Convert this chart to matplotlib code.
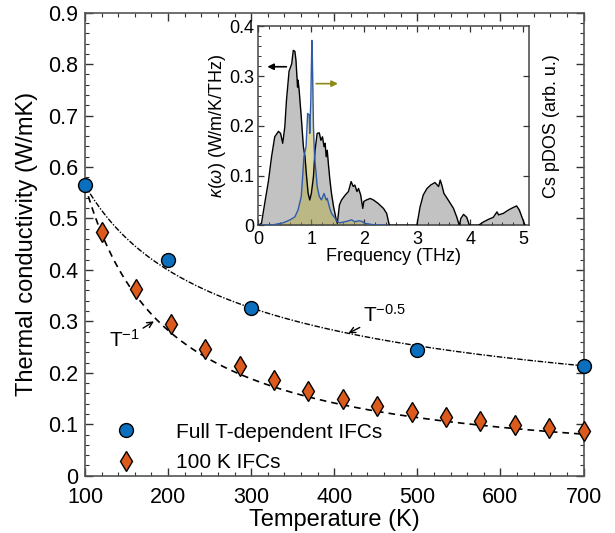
import numpy as np
import matplotlib
matplotlib.use("Agg")
import matplotlib.pyplot as plt
from matplotlib.ticker import MultipleLocator

plt.rcParams['font.family'] = ['Liberation Sans', 'DejaVu Sans']
plt.rcParams['mathtext.fontset'] = 'custom'
plt.rcParams['mathtext.rm'] = 'Liberation Sans'
plt.rcParams['mathtext.it'] = 'Liberation Sans:italic'

# ---------------- data ----------------
T_full = [100, 200, 300, 500, 700]
k_full = [0.565, 0.419, 0.326, 0.244, 0.213]

T_100K = [120, 161, 203, 244, 286, 327, 369, 410, 451, 493, 534, 576, 617, 659, 700]
k_100K = [0.474, 0.363, 0.295, 0.247, 0.213, 0.186, 0.165, 0.149, 0.136,
          0.124, 0.114, 0.107, 0.099, 0.093, 0.087]

# power-law guide curves: k0 * (T/T0)^n
k0 = 0.565
T0 = 100
n_half = -0.5
n_one = -1.0

# inset: spectral kappa
freq_k = [0, 0.06, 0.13, 0.19, 0.25, 0.31, 0.38, 0.42, 0.46, 0.5, 0.53, 0.58, 0.63, 0.66,
          0.69, 0.71, 0.74, 0.75, 0.77, 0.81, 0.85, 0.88, 0.91, 0.94, 0.97, 1.0, 1.04,
          1.07, 1.11, 1.15, 1.18, 1.21, 1.24, 1.26, 1.28, 1.3, 1.32, 1.35, 1.38, 1.42,
          1.47, 1.49, 1.53, 1.57, 1.64, 1.7, 1.75, 1.79, 1.82, 1.86, 1.89, 1.93, 1.97,
          1.99, 2.04, 2.11, 2.17, 2.26, 2.36, 2.42, 2.47, 2.99, 3.05, 3.11, 3.18, 3.25,
          3.33, 3.4, 3.43, 3.46, 3.5, 3.58, 3.68, 3.74, 3.79, 3.82, 3.87, 3.93, 3.98,
          4.15, 4.25, 4.34, 4.43, 4.5, 4.53, 4.62, 4.72, 4.81, 4.87, 4.92, 4.99, 5.03]
kappa_w = [0, 0.004, 0.05, 0.088, 0.138, 0.178, 0.189, 0.185, 0.165, 0.198, 0.25, 0.31,
           0.325, 0.352, 0.35, 0.332, 0.278, 0.292, 0.272, 0.218, 0.158, 0.138, 0.098,
           0.064, 0.051, 0.064, 0.098, 0.151, 0.185, 0.186, 0.171, 0.178, 0.158, 0.165,
           0.138, 0.151, 0.125, 0.091, 0.064, 0.037, 0.011, 0.004, 0.041, 0.051, 0.061,
           0.068, 0.088, 0.078, 0.081, 0.068, 0.074, 0.061, 0.034, 0.048, 0.051, 0.054,
           0.051, 0.044, 0.034, 0.024, 0, 0, 0.037, 0.061, 0.074, 0.081, 0.086, 0.078,
           0.091, 0.081, 0.064, 0.051, 0.034, 0.017, 0, 0.014, 0.022, 0.016, 0, 0, 0.007,
           0.012, 0.016, 0.027, 0.021, 0.024, 0.031, 0.036, 0.039, 0.031, 0.011, 0]

# inset: Cs partial DOS (arb. units)
freq_dos = [0, 0.28, 0.47, 0.6, 0.69, 0.75, 0.81, 0.84, 0.86, 0.9, 0.93, 0.96, 0.97, 0.99,
            1.01, 1.02, 1.04, 1.06, 1.09, 1.11, 1.15, 1.19, 1.24, 1.28, 1.3, 1.34, 1.38,
            1.45, 1.49, 1.54, 1.67, 1.76, 1.82, 1.89, 1.95, 2.01, 2.17, 2.42]
dos_cs = [0, 0.001, 0.005, 0.011, 0.017, 0.031, 0.058, 0.104, 0.138, 0.158, 0.225, 0.222,
          0.185, 0.252, 0.372, 0.332, 0.198, 0.138, 0.104, 0.078, 0.058, 0.051, 0.064,
          0.051, 0.054, 0.037, 0.024, 0.014, 0.007, 0.005, 0.008, 0.011, 0.007, 0.009,
          0.008, 0.004, 0.001, 0]

blue = '#0b6fbd'
orange = '#dc5a1c'

fig = plt.figure(figsize=(6.15, 5.33), dpi=100)
ax = fig.add_axes([0.1382, 0.1075, 0.8106, 0.8687])

Tc = np.linspace(100, 700, 300)
ax.plot(Tc, k0 * (Tc / T0) ** n_half, color='black', lw=1.0,
        linestyle=(0, (4, 1.2, 1, 1.2)), zorder=2)
ax.plot(Tc, k0 * (Tc / T0) ** n_one, color='black', lw=1.2,
        linestyle=(0, (4, 3)), zorder=2)

ax.plot(T_full, k_full, 'o', color=blue, mec='black', mew=1.0, ms=10,
        label='Full T-dependent IFCs', clip_on=False, zorder=4)
ax.plot(T_100K, k_100K, 'd', color=orange, mec='black', mew=1.0, ms=10.5,
        label='100 K IFCs', clip_on=False, zorder=4)

ax.set_xlim(100, 700)
ax.set_ylim(0, 0.9)
ax.xaxis.set_major_locator(MultipleLocator(100))
ax.xaxis.set_minor_locator(MultipleLocator(20))
ax.yaxis.set_minor_locator(MultipleLocator(0.02))
ax.set_yticks(np.arange(0, 0.91, 0.1))
ax.set_yticklabels(['0'] + ['%.1f' % v for v in np.arange(0.1, 0.91, 0.1)])
ax.tick_params(which='both', direction='in', top=True, right=True, labelsize=15.5,
               colors='#333333', labelcolor='black')
ax.tick_params(which='major', length=6, width=1)
ax.tick_params(which='minor', length=3, width=0.8)
ax.tick_params(axis='x', pad=8)
ax.tick_params(axis='y', pad=5)
for s in ax.spines.values():
    s.set_color('#555555')
    s.set_linewidth(1.2)
ax.set_xlabel('Temperature (K)', fontsize=17, labelpad=1)
ax.set_ylabel('Thermal conductivity (W/mK)', fontsize=17, labelpad=7)

ax.annotate('T$^{-1}$', xy=(183, 0.300), xytext=(148, 0.265), fontsize=15,
            ha='center', va='center',
            arrowprops=dict(arrowstyle='->', color='black', lw=1.0, shrinkA=12, shrinkB=0,
                            mutation_scale=10))
ax.annotate('T$^{-0.5}$', xy=(417, 0.277), xytext=(460, 0.312), fontsize=15,
            ha='center', va='center',
            arrowprops=dict(arrowstyle='->', color='black', lw=1.0, shrinkA=12, shrinkB=0,
                            mutation_scale=10))

leg = ax.legend(loc='lower left', bbox_to_anchor=(0.045, -0.01), frameon=False,
                fontsize=15, handlelength=1.0, handletextpad=1.9, labelspacing=0.55,
                borderaxespad=0)

# ---------------- inset ----------------
axi = fig.add_axes([0.42, 0.5773, 0.4407, 0.373])
axi.fill_between(freq_k, kappa_w, 0, color='#c2c2c2', lw=0, zorder=1)
axi.fill_between(freq_dos, dos_cs, 0, color='#b6ac3c', alpha=0.45, lw=0, zorder=2)
axi.plot(freq_k, kappa_w, color='black', lw=1.0, zorder=3)
axi.plot(freq_dos, dos_cs, color='#2f5aa8', lw=1.0, zorder=4)
axi.set_xlim(0, 5.11)
axi.set_ylim(0, 0.4)
axi.xaxis.set_major_locator(MultipleLocator(1))
axi.xaxis.set_minor_locator(MultipleLocator(0.2))
axi.set_yticks([0, 0.1, 0.2, 0.3, 0.4])
axi.set_yticklabels(['0', '0.1', '0.2', '0.3', '0.4'])
axi.yaxis.set_minor_locator(MultipleLocator(0.02))
axi.tick_params(which='both', direction='in', top=True, right=False, labelsize=13,
                colors='#333333', labelcolor='black')
axi.tick_params(axis='x', pad=4)
axi.tick_params(axis='y', pad=3)
axi.tick_params(which='major', length=4, width=0.9)
axi.tick_params(which='minor', length=2, width=0.7)
for s in axi.spines.values():
    s.set_color('#444444')
    s.set_linewidth(1.1)
axi.set_xlabel('Frequency (THz)', fontsize=13, labelpad=0)
axi.set_ylabel(r'$\kappa(\omega)$ (W/m/K/THz)', fontsize=13, labelpad=1)

axr = axi.twinx()
axr.set_ylim(0, 0.4)
axr.set_yticks([0.1, 0.2, 0.3])
axr.set_yticklabels([])
axr.tick_params(direction='in', length=4, width=0.9, colors='#333333')
for s in axr.spines.values():
    s.set_visible(False)
axr.set_ylabel('Cs pDOS (arb. u.)', fontsize=13, labelpad=6)

axi.annotate('', xy=(0.17, 0.319), xytext=(0.53, 0.319),
             arrowprops=dict(arrowstyle='-|>', color='black', lw=1.2, mutation_scale=9,
                             shrinkA=0, shrinkB=0))
axi.annotate('', xy=(1.5, 0.285), xytext=(1.09, 0.285),
             arrowprops=dict(arrowstyle='-|>', color='#8c8a14', lw=1.2, mutation_scale=9,
                             shrinkA=0, shrinkB=0))

fig.savefig('out.png', dpi=100)
